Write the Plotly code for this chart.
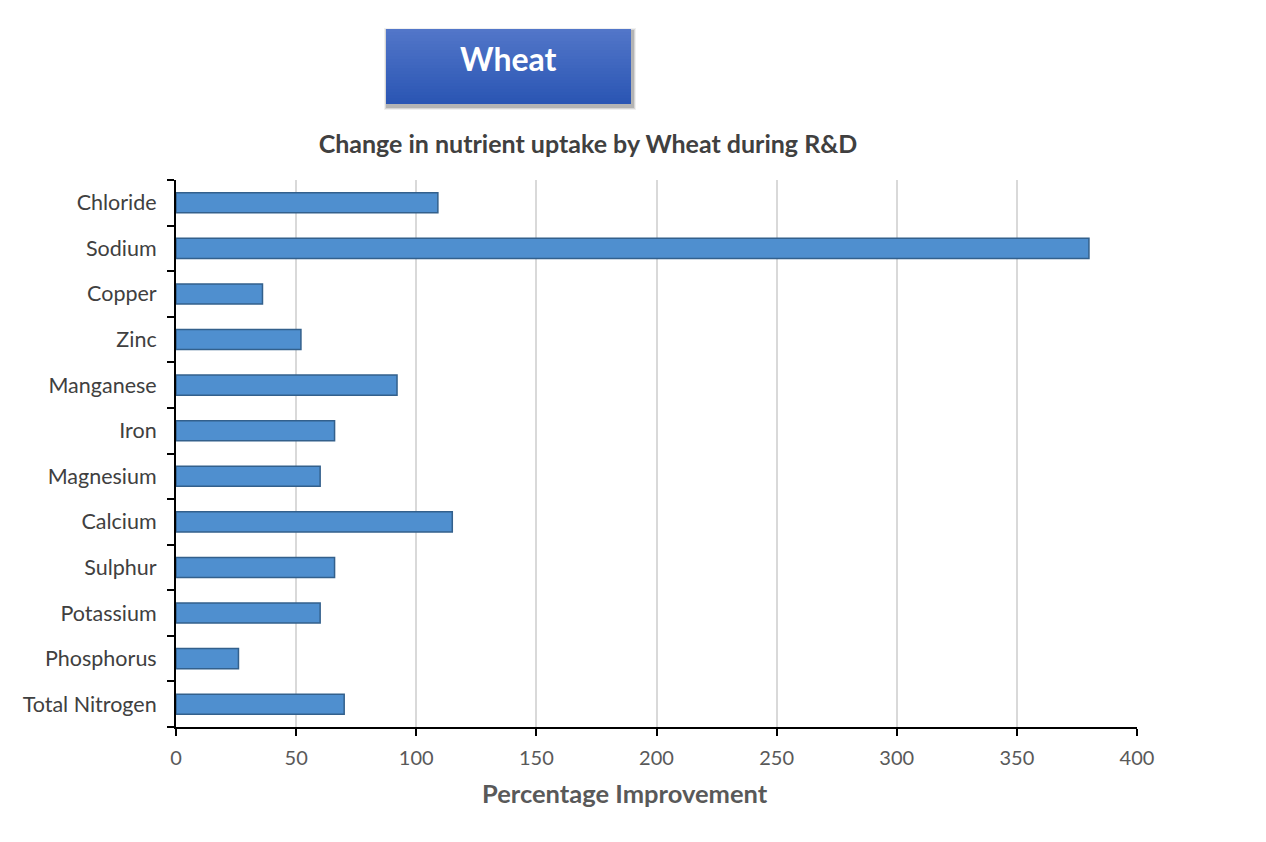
import plotly.graph_objects as go

# values (percentage improvement)
nutrients = ['Total Nitrogen', 'Phosphorus', 'Potassium', 'Sulphur', 'Calcium', 'Magnesium',
             'Iron', 'Manganese', 'Zinc', 'Copper', 'Sodium', 'Chloride']
improvement = [70, 26, 60, 66, 115, 60, 66, 92, 52, 36, 380, 109]
x_ticks = [0, 50, 100, 150, 200, 250, 300, 350, 400]

# page has an 8px body margin, so the figure is drawn 8px in from the corner
OFF = 8
W, H = 1266 - 2 * OFF, 842 - 2 * OFF
L, R, T, B = 176 - OFF, 129 - OFF, 180 - OFF, 115 - OFF
pw, ph = W - L - R, H - T - B


def px(x):
    return (x - OFF - L) / pw


def py(y):
    return (H - B - (y - OFF)) / ph


fig = go.Figure(go.Bar(
    y=nutrients, x=improvement, orientation='h',
    marker=dict(color='#4f8fcf', line=dict(color='#33608c', width=1.5)),
    width=0.44,
))

shapes = []
# drop shadow for the header box
for i, op in enumerate([0.08, 0.14, 0.22]):
    d = 3 - i
    shapes.append(dict(type='rect', xref='paper', yref='paper',
                       x0=px(386 + 1 - d), x1=px(631 + 2 + d),
                       y0=py(104 + 3 + d), y1=py(29 + 2 - d),
                       fillcolor='rgba(60,60,60,%s)' % op, line=dict(width=0), layer='above'))
# gradient header box built from thin strips
top_c = (0x52, 0x76, 0xc9)
bot_c = (0x2b, 0x56, 0xb4)
n = 25
y_top, y_bot = 29, 104
for i in range(n):
    t = i / (n - 1)
    c = tuple(int(top_c[k] + (bot_c[k] - top_c[k]) * t) for k in range(3))
    ya = y_top + (y_bot - y_top) * i / n
    yb = y_top + (y_bot - y_top) * (i + 1) / n + 0.5
    shapes.append(dict(type='rect', xref='paper', yref='paper',
                       x0=px(386), x1=px(631), y0=py(min(yb, y_bot)), y1=py(ya),
                       fillcolor='rgb(%d,%d,%d)' % c, line=dict(width=0), layer='above'))

fig.update_layout(
    width=W, height=H,
    margin=dict(l=L, r=R, t=T, b=B),
    paper_bgcolor='white', plot_bgcolor='white',
    font=dict(family='Lato, Open Sans, sans-serif', color='#404040', size=21),
    showlegend=False,
    title=dict(text='<b>Change in nutrient uptake by Wheat during R&D</b>',
               xref='paper', x=px(588), xanchor='center',
               yref='container', y=1 - (144 - OFF) / H, yanchor='middle',
               font=dict(size=25, color='#404040')),
    shapes=shapes,
    annotations=[
        dict(text='<b>Wheat</b>', xref='paper', yref='paper',
             x=px(508), y=py(59), xanchor='center', yanchor='middle',
             showarrow=False, font=dict(size=32, color='white')),
        dict(text='<b>Percentage Improvement</b>', xref='paper', yref='paper',
             x=px(625), y=py(793), xanchor='center', yanchor='middle',
             showarrow=False, font=dict(size=25.5, color='#595959')),
    ],
    xaxis=dict(range=[0, 400], tickvals=x_ticks, showgrid=True, gridcolor='#d9d9d9',
               gridwidth=1.5, zeroline=False, showline=True, linecolor='black',
               linewidth=2, ticks='outside', ticklen=7, tickcolor='black', tickwidth=2,
               ticklabelstandoff=5,
               tickfont=dict(size=20, color='#595959')),
    yaxis=dict(categoryorder='array', categoryarray=nutrients, showgrid=False,
               showline=True, linecolor='black', linewidth=2, ticks='outside',
               tickson='boundaries', ticklen=7, tickcolor='black', tickwidth=2,
               ticklabelstandoff=13,
               tickfont=dict(size=21.5, color='#404040')),
)

fig.write_html('out.html')
